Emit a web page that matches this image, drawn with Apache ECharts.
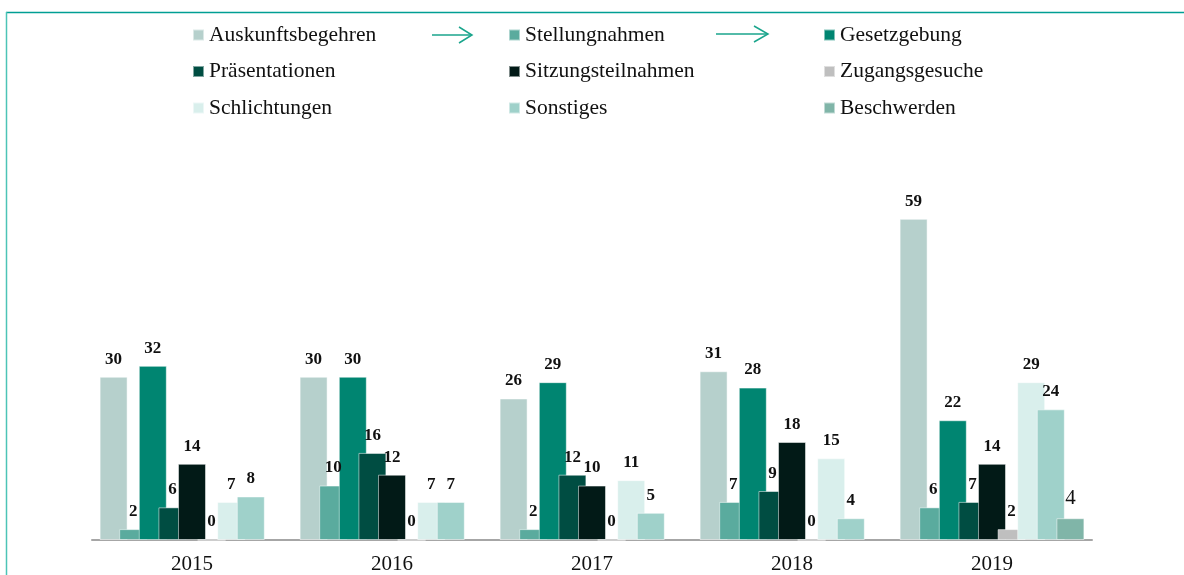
<!DOCTYPE html>
<html>
<head>
<meta charset="utf-8">
<script src="https://cdn.jsdelivr.net/npm/echarts@6/dist/echarts.min.js"></script>
<style>
  html, body { margin: 0; padding: 0; background: #fff; }
  #chart { width: 1184px; height: 575px; }
</style>
</head>
<body>
<div id="chart"></div>
<script>
const years = ['2015', '2016', '2017', '2018', '2019']

const auskunftsbegehren = [30, 30, 26, 31, 59]
const stellungnahmen = [2, 10, 2, 7, 6]
const gesetzgebung = [32, 30, 29, 28, 22]
const praesentationen = [6, 16, 12, 9, 7]
const sitzungsteilnahmen = [14, 12, 10, 18, 14]
const zugangsgesuche = [0, 0, 0, 0, 2]
const schlichtungen = [7, 7, 11, 15, 29]
const sonstiges = [8, 7, 5, 4, 24]
const beschwerden = [null, null, null, null, 4]

const seriesDefs = [
  { name: 'Auskunftsbegehren', data: auskunftsbegehren, color: '#b6d0cc' },
  { name: 'Stellungnahmen', data: stellungnahmen, color: '#5aab9e' },
  { name: 'Gesetzgebung', data: gesetzgebung, color: '#008571' },
  { name: 'Präsentationen', data: praesentationen, color: '#004d42' },
  { name: 'Sitzungsteilnahmen', data: sitzungsteilnahmen, color: '#021a17' },
  { name: 'Zugangsgesuche', data: zugangsgesuche, color: '#bfbfbf' },
  { name: 'Schlichtungen', data: schlichtungen, color: '#d9efec' },
  { name: 'Sonstiges', data: sonstiges, color: '#9fd1ca' },
  { name: 'Beschwerden', data: beschwerden, color: '#80b5a8', plainLabel: true },
]

const serif = '"Liberation Serif", "Times New Roman", serif'
const teal = '#1aa58c'

const legendText = { fontFamily: serif, fontSize: 21.5, color: '#111' }
const legendCols = [
  { left: 187, data: ['Auskunftsbegehren', 'Präsentationen', 'Schlichtungen'] },
  { left: 503, data: ['Stellungnahmen', 'Sitzungsteilnahmen', 'Sonstiges'] },
  { left: 818, data: ['Gesetzgebung', 'Zugangsgesuche', 'Beschwerden'] },
]

const chart = echarts.init(document.getElementById('chart'))

chart.setOption({
  animation: false,
  legend: legendCols.map(c => ({
    left: c.left,
    top: 19,
    orient: 'vertical',
    icon: 'rect',
    itemWidth: 11,
    itemHeight: 11,
    itemGap: 14.5,
    textStyle: legendText,
    data: c.data,
  })),
  grid: { left: 92, right: 92, top: 159, bottom: 33 },
  xAxis: {
    type: 'category',
    data: years,
    axisLine: { lineStyle: { color: '#a6a6a6', width: 2 } },
    axisTick: { show: false },
    axisLabel: { fontFamily: serif, fontSize: 21, color: '#111', margin: 14 },
  },
  yAxis: {
    type: 'value',
    min: 0,
    max: 70,
    show: false,
    splitLine: { show: false },
  },
  graphic: [
    { type: 'line', shape: { x1: 6, y1: 12.5, x2: 1184, y2: 12.5 }, style: { stroke: '#009e94', lineWidth: 1.5 } },
    { type: 'line', shape: { x1: 6.5, y1: 12, x2: 6.5, y2: 575 }, style: { stroke: '#4cc4b6', lineWidth: 1.5 } },
    { type: 'line', shape: { x1: 432, y1: 35, x2: 472, y2: 35 }, style: { stroke: teal, lineWidth: 1.5 } },
    { type: 'polyline', shape: { points: [[459, 27], [472, 35], [459, 43]] }, style: { stroke: teal, lineWidth: 1.5, fill: null } },
    { type: 'line', shape: { x1: 716, y1: 34, x2: 768, y2: 34 }, style: { stroke: teal, lineWidth: 1.5 } },
    { type: 'polyline', shape: { points: [[754, 26], [768, 34], [754, 42]] }, style: { stroke: teal, lineWidth: 1.5, fill: null } },
  ],
  series: seriesDefs.map(s => ({
    name: s.name,
    type: 'bar',
    data: s.data,
    barWidth: 28,
    barGap: '-30%',
    itemStyle: { color: s.color, borderColor: 'rgba(255,255,255,0.5)', borderWidth: 1 },
    label: {
      show: true,
      position: 'top',
      distance: 9,
      fontFamily: serif,
      fontSize: s.plainLabel ? 21 : 17,
      fontWeight: s.plainLabel ? 'normal' : 'bold',
      color: '#111',
    },
  })),
})

window.addEventListener('resize', () => chart.resize())
</script>
</body>
</html>
